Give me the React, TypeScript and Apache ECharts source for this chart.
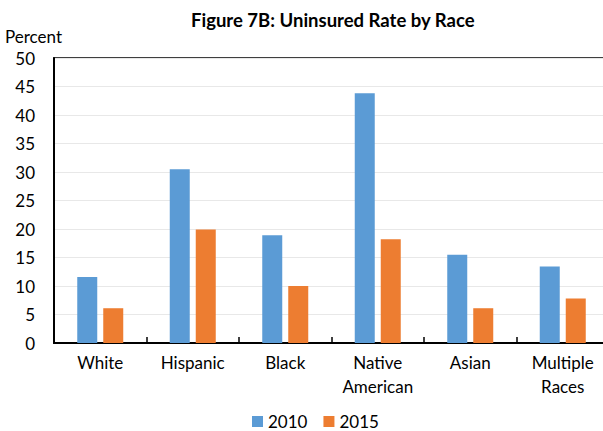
import React, { useEffect, useRef } from "react";
import * as echarts from "echarts";

const categories = ["White", "Hispanic", "Black", "Native\nAmerican", "Asian", "Multiple\nRaces"];
const series2010 = [11.6, 30.5, 18.9, 43.8, 15.5, 13.4];
const series2015 = [6.1, 19.9, 10.0, 18.2, 6.1, 7.8];
const seriesNames = ["2010", "2015"];
const colors = ["#5B9BD5", "#ED7D31"];
const FONT = "Lato, 'Noto Sans', sans-serif";

export default function App() {
  const ref = useRef<HTMLDivElement>(null);
  useEffect(() => {
    if (!ref.current) return;
    const chart = echarts.init(ref.current, null, { renderer: "svg" });
    chart.setOption({
      animation: false,
      backgroundColor: "#fff",
      textStyle: { fontFamily: FONT },
      title: {
        text: "Figure 7B: Uninsured Rate by Race",
        left: 186,
        top: 5,
        textStyle: { fontFamily: FONT, fontSize: 18.5, fontWeight: "bold", color: "#000" },
      },
      graphic: [
        {
          type: "text",
          left: 5,
          top: 28,
          style: { text: "Percent", fontFamily: FONT, fontSize: 17, fill: "#000" },
        },
      ],
      legend: {
        top: 408,
        left: 247,
        itemWidth: 11,
        itemHeight: 11,
        itemGap: 16,
        icon: "rect",
        data: seriesNames,
        textStyle: { fontFamily: FONT, fontSize: 17, color: "#000" },
      },
      grid: {
        left: 54,
        top: 58,
        width: 555,
        height: 285,
        outerBoundsMode: "none",
        containLabel: false,
        show: true,
        borderColor: "#000",
        borderWidth: 1.5,
        backgroundColor: "transparent",
      },
      xAxis: {
        type: "category",
        data: categories,
        axisLine: { lineStyle: { color: "#000", width: 2 } },
        axisTick: { show: true, inside: true, length: 6, lineStyle: { color: "#000", width: 1.5 } },
        axisLabel: {
          interval: 0,
          fontFamily: FONT,
          fontSize: 17,
          color: "#000",
          margin: 7,
          lineHeight: 24,
        },
      },
      yAxis: {
        type: "value",
        min: 0,
        max: 50,
        interval: 5,
        axisLine: { show: true, lineStyle: { color: "#000", width: 2 } },
        axisTick: { show: false },
        splitLine: { lineStyle: { color: "#e8e8e8", width: 1 } },
        axisLabel: { fontFamily: FONT, fontSize: 17, color: "#000", margin: 19 },
      },
      series: [
        {
          name: seriesNames[0],
          type: "bar",
          data: series2010,
          barWidth: 20,
          barGap: "30%",
          itemStyle: { color: colors[0] },
        },
        {
          name: seriesNames[1],
          type: "bar",
          data: series2015,
          barWidth: 20,
          barGap: "30%",
          itemStyle: { color: colors[1] },
        },
      ],
    });
    return () => chart.dispose();
  }, []);
  return (
    <div
      ref={ref}
      style={{ position: "fixed", left: 0, top: 0, width: 603, height: 431, background: "#fff" }}
    />
  );
}
